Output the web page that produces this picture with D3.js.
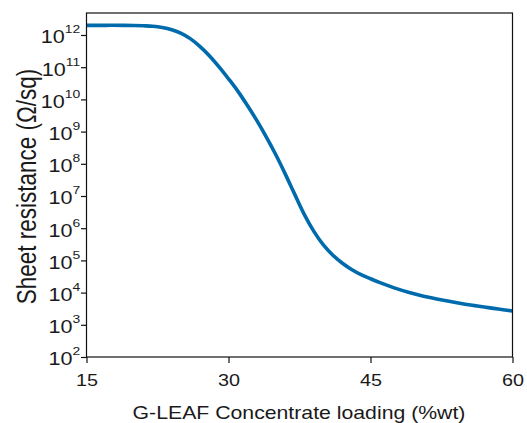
<!DOCTYPE html>
<html><head><meta charset="utf-8">
<script src="https://cdn.jsdelivr.net/npm/d3@7"></script>
<style>body{margin:0;background:#fff}svg{display:block}text{font-family:"Liberation Sans",Arial,sans-serif;fill:#1a1a1a}</style>
</head><body>
<script>
const loading = [15,17,19,20,21,22,23,24,25,26,27,28,29,30,31,32,33,34,35,36,37,38,39,40,41,42,43,44,45,46,47,48,49,50,51,52,53,54,55,56,57,58,59,60];
const logResistance = [12.3,12.3,12.3,12.295,12.285,12.27,12.23,12.16,12.05,11.88,11.64,11.35,11.01,10.64,10.25,9.81,9.34,8.83,8.28,7.68,7.05,6.43,5.91,5.49,5.17,4.92,4.72,4.56,4.43,4.31,4.2,4.1,4.01,3.93,3.86,3.8,3.745,3.69,3.64,3.595,3.55,3.51,3.47,3.43];
const xTicks = [15,30,45,60];
const yExponents = [2,3,4,5,6,7,8,9,10,11,12];
const xLabel = "G-LEAF Concentrate loading (%wt)";
const yLabel = "Sheet resistance (\u03A9/sq)";

const W=527,H=423, L=86.5, R=512.5, T=13, B=357, SX=1.2;
const svg=d3.select("body").append("svg").attr("width",W).attr("height",H);
const x=d3.scaleLinear().domain([15,60]).range([L,R]);
const y=d3.scaleLog().domain([1e2,Math.pow(10,12.683)]).range([B,T]);

const data=loading.map((v,i)=>({x:v,y:Math.pow(10,logResistance[i])}));

svg.append("path").datum(data)
  .attr("fill","none").attr("stroke","#006BAC").attr("stroke-width",3.6)
  .attr("d",d3.line().x(d=>x(d.x)).y(d=>y(d.y)).curve(d3.curveCatmullRom.alpha(0.5)));

// frame
svg.append("rect").attr("x",L).attr("y",T).attr("width",R-L).attr("height",B-T)
  .attr("fill","none").attr("stroke","#111").attr("stroke-width",1.2);

const xa=svg.append("g").attr("transform",`translate(0,${B})`)
  .call(d3.axisBottom(x).tickValues(xTicks).tickSize(6).tickFormat(d3.format("d")));
xa.select(".domain").remove();
xa.selectAll("line").attr("stroke","#111").attr("stroke-width",1.2);
xa.selectAll(".tick text").attr("y",29.5).attr("dy",null).attr("transform",`scale(${SX},1)`)
  .style("font-size","16.5px").attr("fill","#1a1a1a");

const ya=svg.append("g").attr("transform",`translate(${L},0)`)
  .call(d3.axisLeft(y).tickValues(yExponents.map(e=>Math.pow(10,e))).tickSize(5.5).tickFormat(()=>""));
ya.select(".domain").remove();
ya.selectAll("line").attr("stroke","#111").attr("stroke-width",1.2);
ya.selectAll(".tick text").each(function(d){
  const t=d3.select(this).style("font-size","18px").attr("dy",null).attr("y",7.8).attr("x",-5.3)
    .attr("transform",`scale(${SX},1)`);
  t.text(null);
  t.append("tspan").text("10");
  t.append("tspan").attr("dy",-10).style("font-size","11.6px").text(String(Math.round(Math.log10(d))));
});

svg.append("text").attr("transform",`translate(299,419) scale(${SX},1)`).attr("text-anchor","middle")
  .style("font-size","17.7px").text(xLabel);
svg.append("text").attr("transform",`translate(36,186.5) rotate(-90) scale(1,${SX})`).attr("text-anchor","middle")
  .style("font-size","22.5px").text(yLabel);
</script>
</body></html>
